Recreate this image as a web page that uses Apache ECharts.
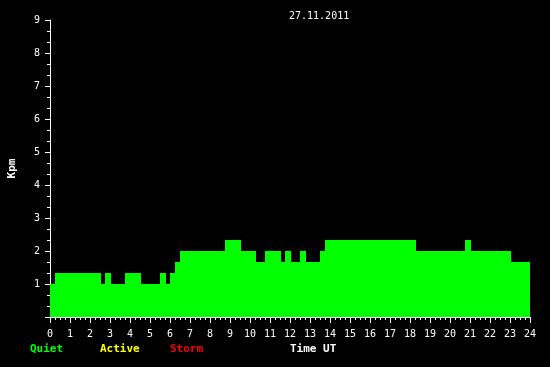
<!DOCTYPE html>
<html><head><meta charset="utf-8">
<script src="https://cdn.jsdelivr.net/npm/echarts@6/dist/echarts.min.js"></script>
<style>html,body{margin:0;padding:0;background:#000;}#c{width:550px;height:367px;}</style>
</head><body><div id="c"></div>
<script>
const title = '27.11.2011';
// step start times (hours UT) and Kpm value holding from that time to the next
const times = [0, 0.25, 2.55, 2.75, 3.05, 3.75, 4.55, 5.5, 5.8, 6.0, 6.25, 6.5, 8.75, 9.55, 10.3, 10.75, 11.55, 11.75, 12.05, 12.5, 12.8, 13.5, 13.75, 18.3, 20.75, 21.05, 23.05, 24];
const kpm   = [1, 1.33, 1, 1.33, 1, 1.33, 1, 1.33, 1, 1.33, 1.67, 2, 2.33, 2, 1.67, 2, 1.67, 2, 1.67, 2, 1.67, 2, 2.33, 2, 2.33, 2, 1.67, 1.67];
const legendLabels = ['Quiet', 'Active', 'Storm'];
const legendColors = ['#00ff00', '#ffff00', '#ff0000'];
const xName = 'Time UT';
const yName = 'Kpm';

const font = 'DejaVu Sans Mono';
const chart = echarts.init(document.getElementById('c'));
const data = times.map((t, i) => [t, kpm[i]]);
const legendX = [30, 100, 170];
const graphics = legendLabels.map((s, i) => ({
  type: 'text', left: legendX[i], top: 344,
  style: {text: s, fill: legendColors[i], font: 'bold 11px ' + font}
}));
graphics.push({type: 'text', left: 290, top: 344, style: {text: xName, fill: '#fff', font: 'bold 11px ' + font}});
chart.setOption({
  backgroundColor: '#000',
  animation: false,
  title: {text: title, left: 284, top: 6, textStyle: {color: '#fff', fontSize: 10, fontWeight: 'normal', fontFamily: font}},
  grid: {left: 50, right: 20, top: 20, bottom: 50, containLabel: false, outerBoundsMode: 'none'},
  xAxis: {
    type: 'value', min: 0, max: 24, interval: 1,
    axisLine: {lineStyle: {color: '#fff', width: 1}},
    axisTick: {length: 6, lineStyle: {color: '#fff'}},
    minorTick: {show: true, splitNumber: 4, length: 3, lineStyle: {color: '#fff'}},
    splitLine: {show: false},
    axisLabel: {color: '#fff', fontSize: 10, fontFamily: font, margin: 12}
  },
  yAxis: {
    type: 'value', min: 0, max: 9, interval: 1,
    name: yName, nameLocation: 'middle', nameRotate: 90, nameGap: 32,
    nameTextStyle: {color: '#fff', fontSize: 11, fontWeight: 'bold', fontFamily: font},
    axisLine: {show: true, lineStyle: {color: '#fff', width: 1}},
    axisTick: {show: true, length: 5, lineStyle: {color: '#fff'}},
    minorTick: {show: true, splitNumber: 3, length: 3, lineStyle: {color: '#fff'}},
    splitLine: {show: false},
    axisLabel: {color: '#fff', fontSize: 10, fontFamily: font, margin: 10, formatter: v => v === 0 ? '' : String(v)}
  },
  series: [{
    type: 'line', step: 'end', data: data, symbol: 'none',
    lineStyle: {width: 0, color: '#00ff00'},
    areaStyle: {color: '#00ff00', opacity: 1, origin: 'start'},
    z: 3
  }],
  graphic: graphics
});
</script></body></html>
